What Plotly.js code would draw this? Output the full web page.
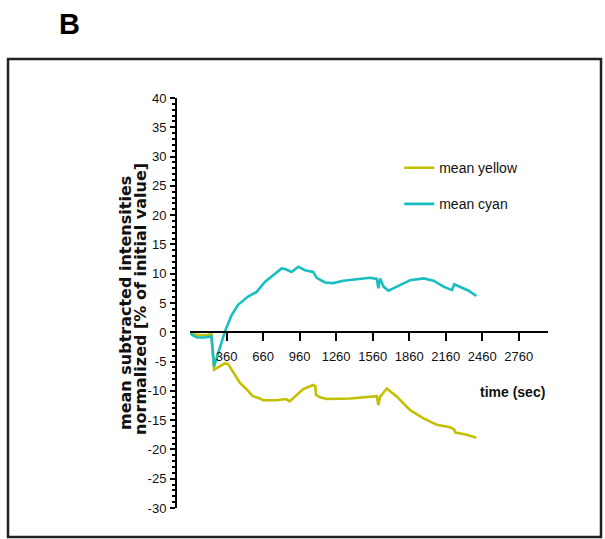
<!DOCTYPE html>
<html>
<head>
<meta charset="utf-8">
<script src="https://cdn.plot.ly/plotly-3.0.1.min.js"></script>
<style>html,body{margin:0;padding:0;background:#fff;}#chart{width:605px;height:539px;}</style>
</head>
<body>
<div id="chart"></div>
<script>
// time (sec) and values (% of initial value)
const yellowTime = [60, 100, 150, 200, 236, 258, 280, 346, 372, 387, 428, 469, 523, 576, 634, 658, 768, 850, 878, 922, 990, 1072, 1089, 1095, 1128, 1182, 1374, 1594, 1607, 1621, 1676, 1759, 1868, 1978, 2087, 2197, 2230, 2238, 2334, 2411];
const yellowValues = [-0.2, -0.4, -0.5, -0.5, -0.3, -6.4, -6.1, -5.3, -5.4, -5.9, -7.2, -8.6, -9.7, -10.9, -11.3, -11.6, -11.6, -11.4, -11.8, -11.0, -9.7, -9.0, -9.2, -10.7, -11.1, -11.4, -11.3, -10.9, -12.4, -11.0, -9.6, -11.0, -13.3, -14.7, -15.8, -16.2, -16.6, -17.1, -17.5, -18.0];

const cyanTime = [60, 80, 120, 180, 236, 258, 300, 346, 401, 455, 537, 607, 675, 743, 812, 840, 895, 949, 1004, 1072, 1100, 1169, 1237, 1319, 1430, 1539, 1594, 1607, 1621, 1649, 1690, 1759, 1868, 1978, 2060, 2142, 2211, 2230, 2280, 2348, 2411];
const cyanValues = [0, -0.5, -0.9, -0.9, -0.7, -5.8, -3.0, 0.1, 2.9, 4.7, 6.1, 6.9, 8.6, 9.8, 10.9, 10.8, 10.3, 11.2, 10.6, 10.3, 9.3, 8.5, 8.4, 8.8, 9.1, 9.3, 9.1, 7.5, 9.2, 7.8, 7.1, 7.8, 8.9, 9.2, 8.8, 7.8, 7.2, 8.2, 7.7, 7.1, 6.2];

const seriesNames = ['mean yellow', 'mean cyan'];
const xTickVals = [360, 660, 960, 1260, 1560, 1860, 2160, 2460, 2760];
const yTickVals = [-30, -25, -20, -15, -10, -5, 0, 5, 10, 15, 20, 25, 30, 35, 40];

const SANS = '"Liberation Sans", Arial, sans-serif';
const WIDE = '"DejaVu Sans", Verdana, sans-serif';

const traces = [
  {x: yellowTime, y: yellowValues, name: seriesNames[0], type: 'scatter', mode: 'lines',
   line: {color: '#c2c000', width: 2.6}, legendgroup: 'a'},
  {x: cyanTime, y: cyanValues, name: seriesNames[1], type: 'scatter', mode: 'lines',
   line: {color: '#19bfc0', width: 2.6}, legendgroup: 'b'}
];

const layout = {
  width: 605, height: 539,
  margin: {l: 176, r: 57, t: 98, b: 31},
  paper_bgcolor: '#fff', plot_bgcolor: 'rgba(0,0,0,0)',
  showlegend: true,
  legend: {x: 0.60, y: 0.868, xanchor: 'left', yanchor: 'top', bgcolor: 'rgba(0,0,0,0)',
           font: {family: SANS, size: 14, color: '#111'}, tracegroupgap: 15, traceorder: 'grouped'},
  xaxis: {
    domain: [0.0376, 1], range: [60, 3000], anchor: 'free', position: 3/7,
    showline: true, linecolor: '#000', linewidth: 2, showgrid: false, zeroline: false,
    tickmode: 'array', tickvals: xTickVals, ticktext: xTickVals.map(String),
    ticks: 'outside', ticklen: 8, tickwidth: 2, tickcolor: '#000', ticklabelstandoff: 4,
    tickfont: {family: SANS, size: 13, color: '#111'}
  },
  yaxis: {
    range: [-30, 40], anchor: 'free', position: 0,
    showline: true, linecolor: '#000', linewidth: 2, showgrid: false, zeroline: false,
    tickmode: 'array', tickvals: yTickVals, ticktext: yTickVals.map(String),
    ticks: 'outside', ticklen: 5, tickwidth: 2, tickcolor: '#000', ticklabelstandoff: 1,
    minor: {dtick: 1, ticks: 'outside', ticklen: 3, tickwidth: 2, tickcolor: '#000', showgrid: false},
    tickfont: {family: SANS, size: 13, color: '#111'}
  },
  annotations: [
    {text: 'mean subtracted intensities', xref: 'paper', yref: 'paper', x: -0.1371, y: 0.5, textangle: -90,
     xanchor: 'center', yanchor: 'middle', showarrow: false, font: {family: WIDE, size: 16, weight: 'bold', color: '#111'}},
    {text: 'normalized [% of initial value]', xref: 'paper', yref: 'paper', x: -0.0941, y: 0.51, textangle: -90,
     xanchor: 'center', yanchor: 'middle', showarrow: false, font: {family: WIDE, size: 16, weight: 'bold', color: '#111'}},
    {text: '<b>time (sec)</b>', xref: 'paper', yref: 'paper', x: 0.905, y: 0.283,
     xanchor: 'center', yanchor: 'middle', showarrow: false, font: {family: SANS, size: 14, color: '#111'}},
    {text: '<b>B</b>', xref: 'paper', yref: 'paper', x: -0.285, y: 1.18,
     xanchor: 'center', yanchor: 'middle', showarrow: false, font: {family: SANS, size: 29, color: '#000'}}
  ],
  shapes: [
    {type: 'rect', xref: 'paper', yref: 'paper', x0: -0.4516, x1: 1.1425, y0: -0.0707, y1: 1.0951,
     line: {color: '#222', width: 2.5}, fillcolor: 'rgba(0,0,0,0)', layer: 'below'}
  ]
};

Plotly.newPlot('chart', traces, layout, {staticPlot: true, displayModeBar: false});
</script>
</body>
</html>
